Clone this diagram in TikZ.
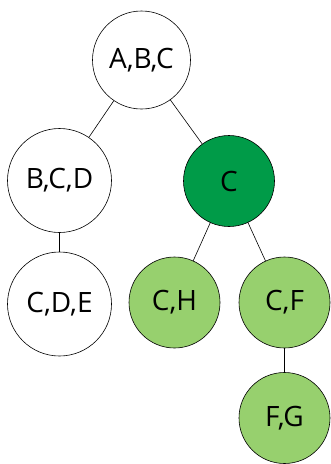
\documentclass[tikz,border=0pt]{standalone}
\usepackage{fontspec}
\setmainfont{Open Sans}
\usepackage{tikz}
\usetikzlibrary{arrows}

\definecolor{darkgreen}{HTML}{009B48}
\definecolor{lightgreen}{HTML}{97D06E}

\begin{document}
\begin{tikzpicture}[x=1pt,y=-1pt,semithick,
	every node/.style={font=\fontsize{28}{34}\selectfont},
	vtx/.style={circle,draw,inner sep=0pt,minimum size=91pt},
	wide/.style={minimum size=104pt},
	dark/.style={fill=darkgreen},
	light/.style={fill=lightgreen}]
			\useasboundingbox (0,0) rectangle (330,464);
			\node[vtx, minimum size=98pt] (abc) at (141.5,60)  {A,B,C};
			\node[vtx, wide             ] (bcd) at (59.5,180.5) {B,C,D};
			\node[vtx, dark             ] (c)   at (229,181)    {C};
			\node[vtx, wide             ] (cde) at (59.5,304)   {C,D,E};
			\node[vtx, light            ] (ch)  at (174.5,302.5) {C,H};
			\node[vtx, light            ] (cf)  at (284.5,302.5) {C,F};
			\node[vtx, light            ] (fg)  at (284.5,418)  {F,G};
			\draw (abc) -- (bcd);
			\draw (abc) -- (c);
			\draw (bcd) -- (cde);
			\draw (c)   -- (ch);
			\draw (c)   -- (cf);
			\draw (cf)  -- (fg);
		\end{tikzpicture}
\end{document}
